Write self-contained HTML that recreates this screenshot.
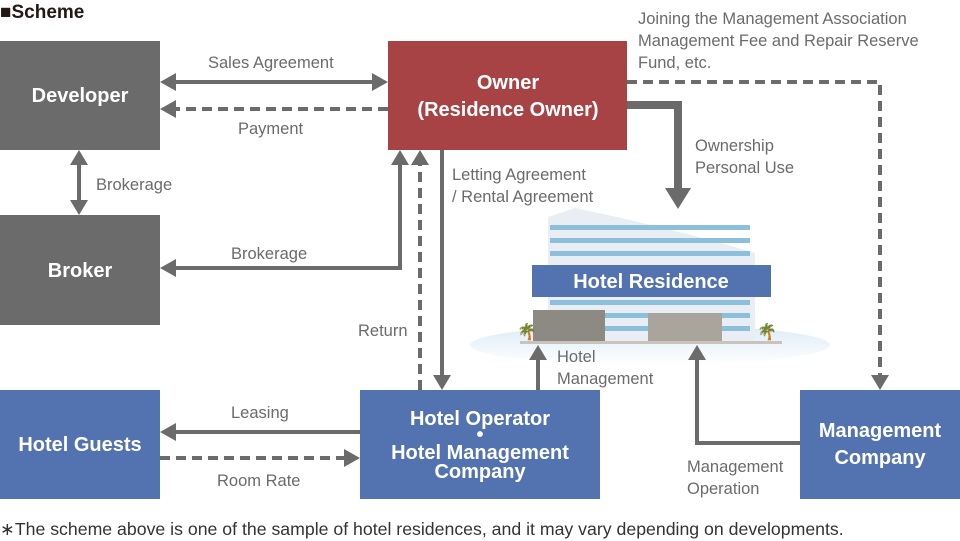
<!DOCTYPE html>
<html><head><meta charset="utf-8"><style>
body{margin:0;background:#fff;width:960px;height:541px;overflow:hidden}
svg{display:block;font-family:"Liberation Sans","Noto Sans CJK JP",sans-serif}
.l{fill:#6b6b6b;font-size:16.5px}
.b{fill:#fff;font-size:20px;font-weight:bold;text-anchor:middle}
</style></head><body>
<svg width="960" height="541" viewBox="0 0 960 541">
<defs>
<linearGradient id="g" x1="0" y1="0" x2="0" y2="1"><stop offset="0" stop-color="#dcebf7"/><stop offset="1" stop-color="#fff"/></linearGradient>
</defs>
<text x="0" y="18" font-size="19" font-weight="bold" fill="#231815">■Scheme</text>
<rect x="0" y="41" width="160" height="109" fill="#6b6b6b"/>
<text x="80" y="102" class="b">Developer</text>
<rect x="0" y="215" width="160" height="110" fill="#6b6b6b"/>
<text x="80" y="277" class="b">Broker</text>
<rect x="388" y="41" width="239" height="109" fill="#a84345"/>
<text x="508" y="89" class="b">Owner</text>
<text x="508" y="116" class="b">(Residence Owner)</text>
<rect x="0" y="390" width="160" height="109" fill="#5372b0"/>
<text x="80" y="451" class="b">Hotel Guests</text>
<rect x="360" y="390" width="240" height="109" fill="#5372b0"/>
<text x="480" y="425" class="b">Hotel Operator</text>
<text x="480" y="441" class="b" font-size="14">•</text>
<text x="480" y="459" class="b">Hotel Management</text>
<text x="480" y="478" class="b">Company</text>
<rect x="800" y="390" width="160" height="109" fill="#5372b0"/>
<text x="880" y="437" class="b">Management</text>
<text x="880" y="464" class="b">Company</text>

<!-- building -->
<ellipse cx="650" cy="345" rx="180" ry="20" fill="url(#g)"/>
<path d="M548,217L575,208Q680,230 755,253V343H548Z" fill="#e8eef3"/>
<g fill="#8bbfdb">
<rect x="550" y="225" width="200" height="5"/><rect x="550" y="238" width="200" height="5"/><rect x="550" y="251" width="200" height="5"/>
<rect x="550" y="300" width="200" height="5"/><rect x="550" y="313" width="200" height="5"/><rect x="550" y="326" width="200" height="5"/>
</g>
<rect x="532" y="265" width="239" height="32" fill="#5372b0"/>
<text x="651" y="288" class="b" font-size="19">Hotel Residence</text>
<rect x="533" y="310" width="72" height="32" fill="#8d8a84"/>
<rect x="648" y="313" width="74" height="29" fill="#a9a59d"/>
<rect x="520" y="341" width="262" height="3" fill="#c8c4bb"/>
<text x="517" y="337" font-size="16" fill="#2a9a3a">🌴</text>
<text x="757" y="337" font-size="16" fill="#2a9a3a">🌴</text>

<g stroke="#6b6b6b" stroke-width="4" fill="none">
<path d="M175,82H375"/>
<path d="M388,109H175" stroke-dasharray="10,6"/>
<path d="M79,163V203"/>
<path d="M400,163V268H175"/>
<path d="M420,390V163" stroke-dasharray="10,6"/>
<path d="M442,150V376"/>
<path d="M627,82H880V376" stroke-dasharray="10,6"/>
<path d="M360,432H175"/>
<path d="M160,458H346" stroke-dasharray="10,6"/>
<path d="M538,390V358"/>
<path d="M800,443H697V358"/>
</g>
<g fill="#6b6b6b">
<path d="M160,82L176,73V91Z"/><path d="M388,82L372,73V91Z"/>
<path d="M160,109L176,100V118Z"/>
<path d="M79,150L70,165H88Z"/><path d="M79,215L70,200H88Z"/>
<path d="M400,150L391,165H409Z"/><path d="M160,268L176,259V277Z"/>
<path d="M420,150L411,165H429Z"/>
<path d="M442,390L433,375H451Z"/>
<path d="M880,390L871,375H889Z"/>
<path d="M160,432L176,423V441Z"/>
<path d="M360,458L344,449V467Z"/>
<path d="M538,345L529,360H547Z"/>
<path d="M697,345L688,360H706Z"/>
<path d="M627,101H682V188H691L678,209L665,188H674V109H627Z"/>
</g>

<text x="208" y="68" class="l">Sales Agreement</text>
<text x="238" y="134" class="l">Payment</text>
<text x="96" y="190" class="l">Brokerage</text>
<text x="231" y="259" class="l">Brokerage</text>
<text x="452" y="180" class="l">Letting Agreement</text>
<text x="452" y="202" class="l">/ Rental Agreement</text>
<text x="358" y="336" class="l">Return</text>
<text x="638" y="24" class="l">Joining the Management Association</text>
<text x="638" y="46" class="l">Management Fee and Repair Reserve</text>
<text x="638" y="68" class="l">Fund, etc.</text>
<text x="695" y="151" class="l">Ownership</text>
<text x="695" y="173" class="l">Personal Use</text>
<text x="557" y="362" class="l">Hotel</text>
<text x="557" y="384" class="l">Management</text>
<text x="231" y="418" class="l">Leasing</text>
<text x="217" y="486" class="l">Room Rate</text>
<text x="687" y="472" class="l">Management</text>
<text x="687" y="494" class="l">Operation</text>
<text x="0" y="535" font-size="17.7" fill="#333">∗The scheme above is one of the sample of hotel residences, and it may vary depending on developments.</text>
</svg>
</body></html>
